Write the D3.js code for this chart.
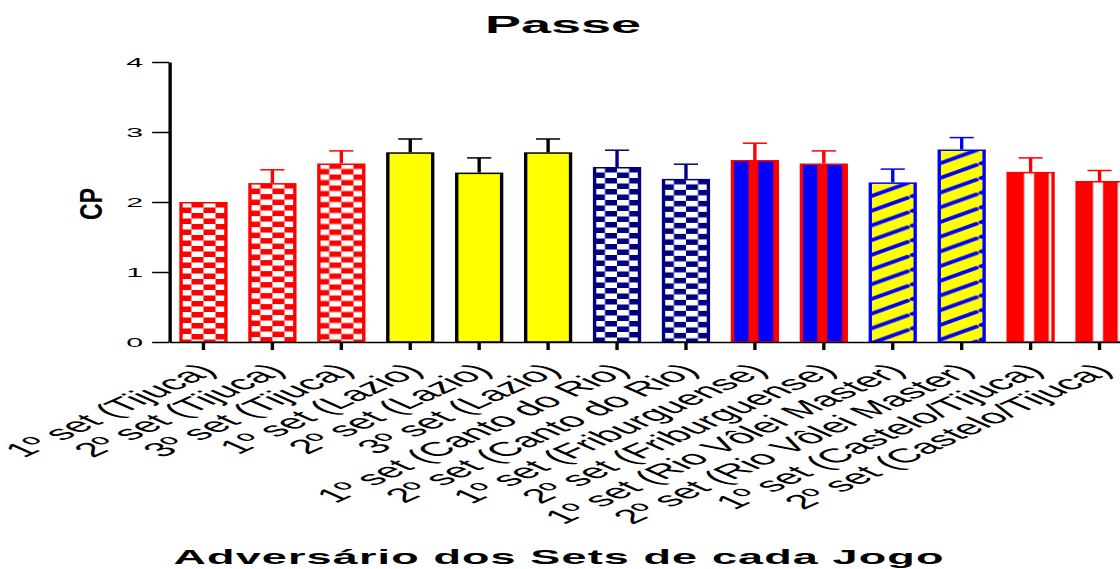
<!DOCTYPE html>
<html>
<head>
<meta charset="utf-8">
<script src="https://cdn.jsdelivr.net/npm/d3@7"></script>
<style>
    body { margin: 0; background: #fff; overflow: hidden; }
    svg { display: block; }
    text { font-family: "Liberation Sans", Arial, sans-serif; fill: #000; }
</style>
</head>
<body>
<div id="chart"></div>
<script>

// data
const categories = ["1º set (Tijuca)", "2º set (Tijuca)", "3º set (Tijuca)",
    "1º set (Lazio)", "2º set (Lazio)", "3º set (Lazio)",
    "1º set (Canto do Rio)", "2º set (Canto do Rio)",
    "1º set (Friburguense)", "2º set (Friburguense)",
    "1º set (Rio Vôlei Master)", "2º set (Rio Vôlei Master)",
    "1º set (Castelo/Tijuca)", "2º set (Castelo/Tijuca)"];
const values = [2.00, 2.27, 2.55, 2.71, 2.42, 2.71, 2.50, 2.33, 2.60, 2.55, 2.28, 2.75, 2.43, 2.30];
const errors = [0, 0.19, 0.18, 0.19, 0.21, 0.19, 0.24, 0.21, 0.24, 0.18, 0.19, 0.17, 0.20, 0.15];
const yTicks = [0, 1, 2, 3, 4];

// look of each opponent's bars
const opponentStyle = {
    "Tijuca": {kind: "checker", color: "#ff0000", line: "#ff0000"},
    "Lazio": {kind: "solid", color: "#ffff00", line: "#000000"},
    "Canto do Rio": {kind: "checker", color: "#000080", line: "#000080"},
    "Friburguense": {kind: "stripe", color: "#0000ff", stripe: "#ff0000", line: "#ff0000"},
    "Rio Vôlei Master": {kind: "diag", color: "#ffff00", stripe: "#0000ff", line: "#0000ff"},
    "Castelo/Tijuca": {kind: "stripe", color: "#ff0000", stripe: "#ffffff", line: "#ff0000"}
};

const data = categories.map((c, i) => ({
    cat: c,
    value: values[i],
    err: errors[i],
    style: opponentStyle[c.match(/\((.*)\)/)[1]]
}));

// the picture is stretched sideways, so draw in a narrow space and stretch it
const W = 1120, H = 569, S = 2.25;
const LW = W / S;
const sw = 1.5;

let svg = d3.select("#chart").append("svg")
    .attr("width", W)
    .attr("height", H)
    .attr("viewBox", `0 0 ${LW} ${H}`)
    .attr("preserveAspectRatio", "none");

let x = d3.scaleBand()
    .domain(categories)
    .range([169 / S, 1134 / S])
    .paddingInner(0.3)
    .paddingOuter(0.15);

let y = d3.scaleLinear()
    .domain([0, 4])
    .range([342, 62]);

let bw = x.bandwidth();

// fill patterns, one per bar so each starts at its own bar
let defs = svg.append("defs");
defs.selectAll("pattern")
    .data(data)
    .join("pattern")
    .attr("id", (d, i) => "pat" + i)
    .attr("patternUnits", "userSpaceOnUse")
    .attr("patternTransform", d => `translate(${x(d.cat)},${y(d.value)})`)
    .each(function(d) {
        let p = d3.select(this);
        let st = d.style;
        if (st.kind === "checker") {
            let cw = bw / 4, ch = 5.5;
            p.attr("width", cw * 2).attr("height", ch * 2);
            p.append("rect").attr("width", cw * 2).attr("height", ch * 2).attr("fill", "#fff");
            p.append("rect").attr("x", cw).attr("y", 0).attr("width", cw).attr("height", ch).attr("fill", st.color);
            p.append("rect").attr("x", 0).attr("y", ch).attr("width", cw).attr("height", ch).attr("fill", st.color);
        } else if (st.kind === "stripe") {
            p.attr("width", bw * 2).attr("height", 10);
            p.append("rect").attr("width", bw * 2).attr("height", 10).attr("fill", st.color);
            p.append("rect").attr("x", bw * 0.365).attr("width", bw * 0.207).attr("height", 10).attr("fill", st.stripe);
            p.append("rect").attr("x", bw * 0.878).attr("width", bw * 0.207).attr("height", 10).attr("fill", st.stripe);
        } else if (st.kind === "diag") {
            let P = 14.7, pw = P / 0.804;
            p.attr("width", pw).attr("height", P);
            p.append("rect").attr("width", pw).attr("height", P).attr("fill", st.color);
            p.append("path")
                .attr("d", [-1, 0, 1].map(k => `M0,${(k + 1) * P}L${pw},${k * P}`).join(""))
                .attr("stroke", st.stripe)
                .attr("stroke-width", 3.2);
        } else {
            p.attr("width", 10).attr("height", 10);
            p.append("rect").attr("width", 10).attr("height", 10).attr("fill", st.color);
        }
    });

// error bars
let errG = svg.append("g").attr("class", "errors");
data.filter(d => d.err > 0).forEach(d => {
    let cx = x(d.cat) + bw / 2;
    errG.append("line")
        .attr("x1", cx).attr("x2", cx)
        .attr("y1", y(d.value)).attr("y2", y(d.value + d.err))
        .attr("stroke", d.style.line).attr("stroke-width", sw);
    errG.append("line")
        .attr("x1", cx - bw / 4).attr("x2", cx + bw / 4)
        .attr("y1", y(d.value + d.err)).attr("y2", y(d.value + d.err))
        .attr("stroke", d.style.line).attr("stroke-width", sw);
});

// bars
svg.append("g").attr("class", "bars")
    .selectAll("rect")
    .data(data)
    .join("rect")
    .attr("x", d => x(d.cat) + sw / 2)
    .attr("y", d => y(d.value) + sw / 2)
    .attr("width", bw - sw)
    .attr("height", d => y(0) - y(d.value) - sw / 2)
    .attr("fill", (d, i) => `url(#pat${i})`)
    .attr("stroke", d => d.style.line)
    .attr("stroke-width", sw);

// axes
let yAxis = svg.append("g")
    .attr("class", "y-axis axis")
    .attr("transform", `translate(${169 / S},0)`)
    .call(d3.axisLeft(y).tickValues(yTicks).tickFormat(d3.format("d")).tickSize(7.5).tickSizeOuter(0).tickPadding(4));

let xAxis = svg.append("g")
    .attr("class", "x-axis axis")
    .attr("transform", `translate(0,${y(0)})`)
    .call(d3.axisBottom(x).tickSize(8).tickSizeOuter(0).tickFormat(""));

svg.selectAll(".axis path, .axis line").attr("stroke", "#000").attr("stroke-width", sw);
yAxis.selectAll("text").attr("font-size", 13.5).attr("fill", "#000");

xAxis.selectAll(".x-label")
    .data(categories)
    .join("text")
    .attr("class", "x-label")
    .attr("transform", d => `translate(${x(d) + bw / 2 + 6.5},${372 - y(0)}) rotate(-45)`)
    .attr("text-anchor", "end")
    .attr("font-size", 20)
    .text(d => d);

// titles
svg.append("text")
    .attr("x", 563 / S).attr("y", 33)
    .attr("text-anchor", "middle")
    .attr("font-size", 24)
    .attr("font-weight", "bold")
    .text("Passe");

svg.append("text")
    .attr("x", 559 / S).attr("y", 564)
    .attr("text-anchor", "middle")
    .attr("font-size", 20)
    .attr("font-weight", "bold")
    .attr("letter-spacing", 0.5)
    .text("Adversário dos Sets de cada Jogo");

svg.append("text")
    .attr("transform", `translate(${(91 / S) + 4.8},204) rotate(-90) scale(1,0.6)`)
    .attr("text-anchor", "middle")
    .attr("font-size", 23)
    .attr("font-weight", "bold")
    .text("CP");

</script>
</body>
</html>
